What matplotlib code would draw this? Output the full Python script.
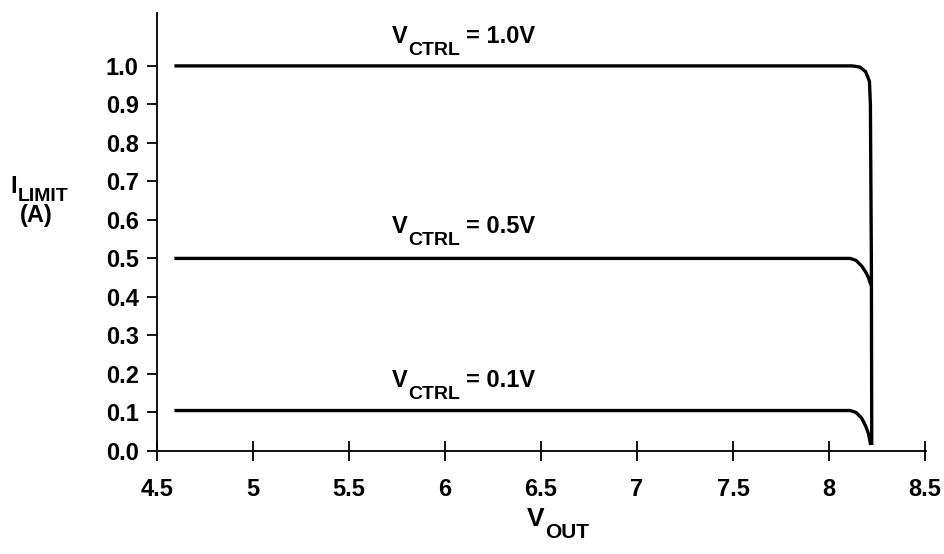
import matplotlib
matplotlib.use("Agg")
import matplotlib.pyplot as plt

plt.rcParams['font.family'] = ['Liberation Sans', 'DejaVu Sans']
plt.rcParams['font.weight'] = 'bold'

# curves (V_OUT, I_LIMIT)
vout_10 = [4.6, 8.05, 8.12, 8.16, 8.19, 8.21, 8.215, 8.22, 8.222]
ilim_10 = [1.0, 1.0, 1.0, 0.997, 0.985, 0.96, 0.9, 0.5, 0.02]
vout_05 = [4.6, 8.11, 8.14, 8.17, 8.19, 8.205, 8.215]
ilim_05 = [0.5, 0.5, 0.495, 0.48, 0.465, 0.45, 0.435]
vout_01 = [4.6, 8.11, 8.14, 8.17, 8.19, 8.205, 8.215]
ilim_01 = [0.105, 0.105, 0.1, 0.085, 0.065, 0.045, 0.02]

labels = ["= 1.0V", "= 0.5V", "= 0.1V"]
label_x = [5.724, 5.724, 5.724]
label_y = [1.06, 0.566, 0.166]

xticks = [4.5, 5, 5.5, 6, 6.5, 7, 7.5, 8, 8.5]
xticklabels = ["4.5", "5", "5.5", "6", "6.5", "7", "7.5", "8", "8.5"]
yticks = [0.0, 0.1, 0.2, 0.3, 0.4, 0.5, 0.6, 0.7, 0.8, 0.9, 1.0]


def sub_text(x, y, main, sub, rest, size, subsize, drop, transform, ha_shift=0):
    # main text, a larger-than-mathtext subscript, then the rest on the baseline
    t1 = ax.text(x, y, main, fontsize=size, fontweight="bold", ha="left",
                 va="baseline", transform=transform)
    t2 = ax.annotate(sub, xy=(1, 0), xycoords=t1, xytext=(0.5, -drop),
                     textcoords="offset points", fontsize=subsize,
                     fontweight="bold", ha="left", va="bottom")
    if rest:
        ax.annotate(rest, xy=(1, 0), xycoords=t2, xytext=(4, drop),
                    textcoords="offset points", fontsize=size,
                    fontweight="bold", ha="left", va="bottom")


fig = plt.figure(figsize=(9.45, 5.54), dpi=100)
ax = fig.add_axes([0.166, 0.186, 0.814, 0.791])

for xs, ys in [(vout_10, ilim_10), (vout_05, ilim_05), (vout_01, ilim_01)]:
    ax.plot(xs, ys, color="black", lw=2.4, solid_joinstyle="round")

for lab, lx, ly in zip(labels, label_x, label_y):
    sub_text(lx, ly, "V", "CTRL", lab, 17, 14, 8, ax.transData)

ax.set_xlim(4.5, 8.505)
ax.set_ylim(0, 1.138)
ax.spines['top'].set_visible(False)
ax.spines['right'].set_visible(False)
ax.spines['left'].set_linewidth(1.3)
ax.spines['bottom'].set_linewidth(1.3)

ax.set_xticks(xticks)
ax.set_xticklabels(xticklabels, fontsize=17, fontweight="bold")
ax.set_yticks(yticks)
ax.set_yticklabels(["%.1f" % v for v in yticks], fontsize=17, fontweight="bold")
ax.tick_params(axis="x", direction="inout", length=15, width=1.3, pad=12)
ax.tick_params(axis="y", direction="out", length=7, width=1.3, pad=6)

# axis titles
sub_text(0.011, 0.652, "I", "LIMIT", "", 17, 14, 5, fig.transFigure)
fig.text(0.038, 0.599, "(A)", fontsize=17, fontweight="bold",
         ha="center", va="baseline")
sub_text(0.557, 0.05, "V", "OUT", "", 19, 15, 8, fig.transFigure)

fig.savefig("out.png", dpi=100)
